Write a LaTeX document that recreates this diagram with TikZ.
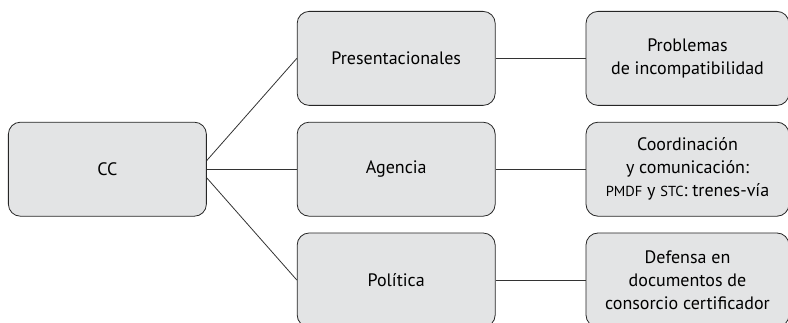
\documentclass[tikz,border=0pt]{standalone}
\usepackage{fontspec}
\setmainfont{PT Sans}
\usetikzlibrary{calc}
\usetikzlibrary{matrix}
\definecolor{boxgray}{RGB}{227,228,229}
\tikzset{
  caja/.style={draw=black!85, fill=boxgray, rounded corners=12pt, minimum width=198pt, minimum height=94pt, align=center, anchor=center, line width=0.8pt, font=\fontsize{18}{23}\selectfont},
  enlace/.style={draw=black!80, line width=0.8pt}
}
\newcommand{\sigla}[1]{{\fontsize{14.5}{23}\selectfont #1}}

\begin{document}
\begin{tikzpicture}
\matrix (m) [matrix of nodes, row sep=16pt, column sep=90pt, nodes={caja}]{
 & \node(pres){Presentacionales}; &
\node[minimum width=203pt](incomp){Problemas\\de incompatibilidad};\\
\node(cc){CC}; & \node(agencia){Agencia}; &
\node[minimum width=203pt](coord){Coordinación\\y comunicación:\\\sigla{PMDF} y \sigla{STC}: trenes-vía};\\
 & \node(politica){Política}; &
\node[minimum width=203pt](defensa){Defensa en\\documentos de\\consorcio certificador};\\
};
\draw[enlace] (cc.5) -- (pres.west);
\draw[enlace] (cc.east) -- (agencia.west);
\draw[enlace] (cc.-5) -- (politica.west);
\draw[enlace] (pres.east) -- (incomp.west);
\draw[enlace] (agencia.east) -- (coord.west);
\draw[enlace] (politica.east) -- (defensa.west);
\pgfresetboundingbox
\useasboundingbox ($(cc.west |- pres.north)+(-8pt,11pt)$) rectangle ++(788pt,-323pt);
\end{tikzpicture}
\end{document}
